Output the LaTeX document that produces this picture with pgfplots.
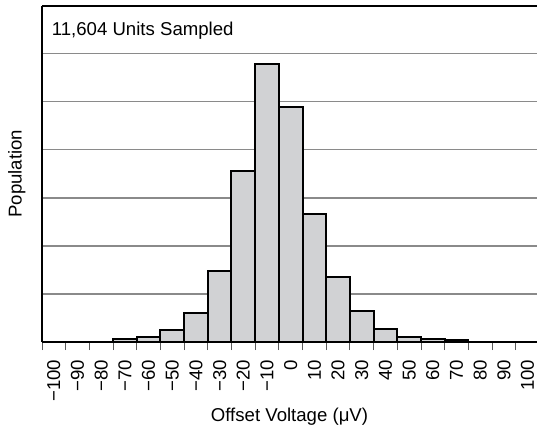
\documentclass[border=0pt]{standalone}
\usepackage{pgfplots}
\pgfplotsset{compat=1.18}
\usepackage{fontspec}
\setmainfont{Liberation Sans}

\definecolor{barfill}{RGB}{209,210,212}
\definecolor{gridgray}{RGB}{138,138,138}
\definecolor{tickgray}{RGB}{90,90,90}

\newcommand{\lblfont}{\fontsize{18.6}{22}\selectfont}

\begin{document}
\begin{tikzpicture}
\begin{axis}[
    name=ax,
    scale only axis,
    width=495pt, height=336.5pt,
    xmin=-100, xmax=109,
    ymin=0, ymax=7,
    axis x line*=box, axis y line*=left,
    axis line style={-, black, line width=2pt},
    xtick pos=bottom,
    xtick={-95,-85,...,105},
    xticklabels={−100,−90,−80,−70,−60,−50,−40,−30,−20,−10,0,10,20,30,40,50,60,70,80,90,100},
    minor xtick={-100,-90,...,100},
    major tick length=0pt,
    minor tick length=8pt,
    tick align=outside,
    minor tick style={tickgray, line width=0.9pt},
    ytick={1,2,...,6},
    yticklabels={},
    ymajorgrids,
    grid style={gridgray, line width=1.5pt},
    every x tick label/.append style={font=\lblfont, rotate=90, anchor=east, inner sep=0pt, xshift=-17.5pt},
    xlabel={Offset Voltage (μV)},
    ylabel={Population},
    every axis x label/.style={at={(axis description cs:0.5,-0.2348)}, anchor=base, font=\lblfont},
    every axis y label/.style={at={(axis description cs:-0.0511,0.5)}, anchor=center, rotate=90, font=\lblfont},
]
\addplot[ybar interval, fill=barfill, draw=black, line width=2pt] coordinates {
    (-70,0.056) (-60,0.10) (-50,0.25) (-40,0.61) (-30,1.48) (-20,3.55)
    (-10,5.79) (0,4.89) (10,2.67) (20,1.35) (30,0.65) (40,0.27)
    (50,0.11) (60,0.056) (70,0.035) (80,0)
};
\node[anchor=base west, inner sep=0pt, font=\lblfont] at (axis cs:-95.9,6.386) {11,604 Units Sampled};
\end{axis}
\pgfresetboundingbox
\path[use as bounding box] ([xshift=-42pt,yshift=-90pt]ax.south west) rectangle ([yshift=5.5pt]ax.north east);
\end{tikzpicture}
\end{document}
